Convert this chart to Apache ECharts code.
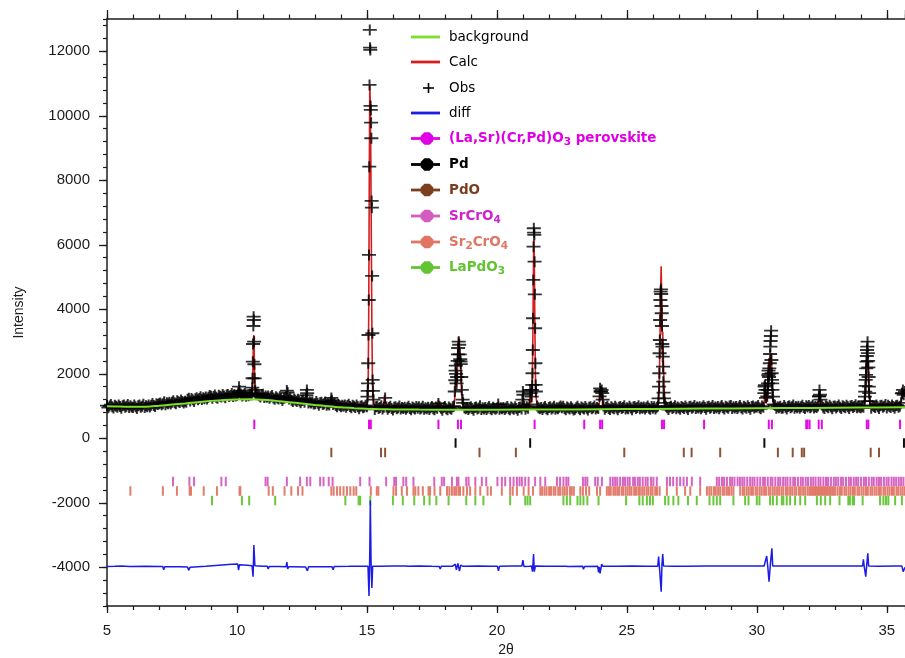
<!DOCTYPE html>
<html>
<head>
<meta charset="utf-8">
<script src="https://cdn.jsdelivr.net/npm/echarts@6/dist/echarts.min.js"></script>
<style>
html,body{margin:0;padding:0;background:#fff;}
#chart{width:905px;height:658px;}
</style>
</head>
<body>
<div id="chart"></div>
<script>
// ---------------- Powder pattern data (2θ in degrees, intensity in counts) ----------------

// Observed scan on a regular 0.05° grid, 5.00° … 35.70°
const scanStart = 5.0;
const scanStep = 0.05;
const obsScan = [
  1015, 950, 1000, 1045, 975, 940, 1025, 990, 960, 1035, 985, 930, 1010, 1030, 965, 995, 1050, 955, 1005, 970,
  955, 1030, 981, 927, 1008, 1029, 965, 996, 1052, 958, 1010, 980, 1031, 971, 1027, 1077, 1013, 983, 1074, 1044,
  1070, 1096, 1036, 1072, 1132, 1043, 1098, 1069, 1119, 1060, 1115, 1166, 1101, 1072, 1162, 1133, 1108, 1189, 1144, 1095,
  1145, 1116, 1207, 1238, 1154, 1235, 1191, 1142, 1228, 1254, 1195, 1230, 1291, 1201, 1257, 1227, 1278, 1218, 1274, 1324,
  1300, 1239, 1293, 1342, 1276, 1245, 1334, 1303, 1277, 1356, 1310, 1257, 1339, 1361, 1298, 1330, 1387, 1294, 1346, 1313,
  1330, 1380, 1480, 1376, 1311, 1341, 1396, 1301, 1352, 1317, 1362, 1340, 1861, 3668, 1500, 1380, 1353, 1315, 1281, 1353,
  1365, 1265, 1310, 1270, 1310, 1240, 1285, 1325, 1250, 1210, 1290, 1250, 1215, 1285, 1230, 1170, 1245, 1260, 1300, 1420,
  1215, 1255, 1180, 1140, 1219, 1179, 1144, 1214, 1158, 1098, 1173, 1188, 1117, 1200, 1400, 1092, 1136, 1096, 1136, 1065,
  1070, 1141, 1086, 1027, 1102, 1118, 1048, 1074, 1124, 1025, 1070, 1031, 1120, 1180, 1049, 1090, 1016, 977, 1058, 1019,
  980, 1028, 990, 1033, 965, 1013, 1055, 983, 945, 1028, 990, 957, 1029, 976, 918, 995, 1012, 944, 971, 1023,
  980, 2326, 10955, 10180, 5033, 1200, 895, 974, 992, 925, 952, 1006, 910, 959, 1250, 967, 902, 951, 996, 925,
  880, 960, 980, 915, 945, 1000, 905, 955, 920, 965, 897, 947, 992, 922, 887, 972, 937, 907, 982, 932,
  974, 909, 939, 994, 899, 949, 914, 959, 894, 944, 988, 918, 883, 968, 933, 1080, 978, 928, 872, 952,
  987, 917, 882, 967, 932, 902, 977, 1000, 1800, 1700, 2600, 2900, 2380, 1500, 1100, 947, 912, 957, 892, 942,
  976, 926, 871, 951, 971, 906, 936, 1010, 896, 946, 911, 956, 891, 941, 986, 916, 881, 966, 931, 901,
  937, 1060, 897, 947, 912, 957, 892, 942, 987, 917, 882, 967, 932, 902, 977, 927, 872, 952, 972, 907,
  1450, 1000, 903, 978, 928, 1050, 1400, 1498, 4909, 5476, 1450, 1000, 948, 913, 958, 893, 943, 988, 918, 883,
  955, 975, 910, 940, 995, 900, 950, 915, 961, 1000, 946, 991, 921, 886, 971, 936, 906, 981, 931, 876,
  898, 948, 993, 923, 888, 973, 938, 908, 983, 933, 878, 960, 980, 915, 945, 1000, 905, 955, 920, 1300,
  1450, 1400, 1000, 902, 952, 997, 927, 892, 977, 942, 914, 990, 940, 885, 965, 985, 921, 951, 1006, 911,
  946, 916, 991, 941, 886, 967, 987, 922, 952, 1007, 913, 963, 928, 973, 908, 958, 1004, 934, 899, 984,
  930, 975, 910, 960, 1000, 2016, 4546, 3482, 1755, 1100, 996, 946, 891, 971, 991, 926, 956, 1011, 917, 967,
  938, 903, 988, 953, 923, 998, 949, 894, 975, 995, 930, 960, 1015, 921, 971, 936, 981, 916, 966, 1011,
  952, 897, 977, 997, 932, 962, 1017, 922, 972, 937, 983, 918, 968, 1013, 944, 909, 994, 959, 929, 1004,
  1020, 925, 975, 940, 985, 920, 970, 1015, 946, 911, 996, 961, 931, 1006, 956, 901, 982, 1002, 937, 967,
  973, 1018, 948, 913, 998, 963, 1600, 1250, 1300, 2100, 2326, 3338, 1498, 1050, 1025, 931, 981, 946, 991, 928,
  938, 1013, 963, 908, 988, 1008, 943, 974, 1029, 934, 985, 950, 995, 930, 980, 1025, 957, 922, 1007, 973,
  1013, 948, 978, 1033, 938, 988, 953, 998, 1300, 1200, 1029, 959, 925, 1010, 975, 945, 1021, 971, 916, 996,
  1002, 937, 987, 1032, 962, 927, 1012, 978, 948, 1023, 975, 920, 1000, 1020, 955, 985, 1040, 945, 995, 960,
  947, 997, 962, 1150, 1963, 2840, 1900, 1150, 934, 1019, 984, 955, 1030, 980, 925, 1006, 1026, 961, 991, 1046,
  937, 1022, 987, 957, 1032, 983, 928, 1008, 1028, 963, 994, 1100, 1400, 1350, 1450
];

// Extra observed points on the finer steps through the Bragg peaks [2θ, counts]
const peakObs = [
  [10.06, 1420], [10.08, 1600],
  [10.57, 1400], [10.59, 1570], [10.61, 2375], [10.62, 2924], [10.63, 3482], [10.64, 3771], [10.66, 2995], [10.67, 2295], [10.68, 1860], [10.72, 1380],
  [11.92, 1480],
  [12.67, 1340], [12.69, 1498],
  [13.63, 1250],
  [15.02, 1290], [15.03, 1467], [15.04, 1705], [15.06, 3203], [15.07, 4288], [15.08, 5684], [15.09, 8422], [15.11, 12660], [15.12, 12112], [15.13, 12040],
  [15.14, 10304], [15.16, 9786], [15.17, 9302], [15.18, 7358], [15.19, 7150], [15.21, 3256], [15.22, 1808], [15.23, 1467],
  [18.38, 1450], [18.41, 2100], [18.42, 2250], [18.43, 2000], [18.47, 1900], [18.49, 2400], [18.51, 2800], [18.53, 2995], [18.57, 2600], [18.59, 2450], [18.61, 2300], [18.63, 1900], [18.68, 1200],
  [20.98, 1200], [21.02, 1350], [21.28, 1500], [21.34, 1290], [21.36, 1653], [21.37, 2016], [21.38, 2738], [21.39, 3721], [21.41, 5941], [21.42, 6512], [21.43, 6375], [21.44, 6304],
  [21.46, 4465], [21.47, 3411], [21.48, 2326], [21.49, 1653],
  [23.97, 1550], [23.99, 1450], [24.03, 1500], [24.07, 1200],
  [26.22, 1240], [26.24, 1600], [26.26, 2636], [26.27, 3048], [26.28, 3668], [26.29, 4288], [26.31, 4620], [26.32, 4474], [26.33, 4102], [26.34, 3876],
  [26.36, 2924], [26.37, 2840], [26.38, 2530], [26.39, 2220], [26.41, 1414], [26.43, 1240],
  [30.29, 1400], [30.31, 1650], [30.33, 1500], [30.42, 1500], [30.43, 1700], [30.44, 1950], [30.46, 2000], [30.47, 1900], [30.48, 2170], [30.51, 2614], [30.52, 2840],
  [30.53, 3017], [30.54, 3172], [30.56, 2428], [30.57, 2016], [30.58, 1808], [30.59, 1705], [30.62, 1290],
  [32.39, 1300], [32.41, 1498], [32.43, 1350],
  [34.16, 1290], [34.17, 1445], [34.18, 1622], [34.19, 1808], [34.21, 2170], [34.22, 2375], [34.23, 2552], [34.24, 2738], [34.26, 2995], [34.27, 2640],
  [34.28, 2400], [34.29, 2200], [34.31, 1600], [34.32, 1400],
  [35.58, 1395], [35.62, 1500]
];

// Calculated profile [2θ, counts]
const calcCurve = [
  [5.0, 965], [5.5, 960], [5.86, 955], [5.90, 1010], [5.94, 956], [6.0, 958], [6.5, 968], [7.0, 1015], [7.12, 1040], [7.17, 1090], [7.22, 1048],
  [7.5, 1075], [8.0, 1125], [8.08, 1135], [8.13, 1190], [8.18, 1145], [8.5, 1170], [9.0, 1200], [9.5, 1225], [10.0, 1235], [10.03, 1240],
  [10.06, 1400], [10.08, 1560], [10.10, 1420], [10.13, 1250], [10.3, 1240], [10.55, 1280], [10.59, 1450], [10.61, 2000], [10.63, 2900],
  [10.645, 3200], [10.66, 2800], [10.68, 1900], [10.70, 1500], [10.74, 1300], [10.8, 1240], [11.0, 1230], [11.5, 1195], [11.87, 1160],
  [11.92, 1290], [11.97, 1155], [12.3, 1125], [12.64, 1095], [12.69, 1190], [12.74, 1090], [13.0, 1060], [13.58, 1020], [13.63, 1310],
  [13.68, 1015], [14.0, 985], [14.5, 955], [15.0, 940], [15.03, 1200], [15.05, 1900], [15.07, 4000], [15.09, 8000], [15.11, 10950],
  [15.13, 10400], [15.15, 8600], [15.17, 6000], [15.19, 3500], [15.21, 1900], [15.24, 1200], [15.30, 960], [15.63, 925], [15.68, 1340],
  [15.73, 925], [16.0, 915], [17.0, 905], [17.70, 903], [17.75, 1188], [17.80, 903], [18.0, 902], [18.35, 950], [18.40, 1500], [18.42, 1900],
  [18.44, 1600], [18.47, 1900], [18.50, 2600], [18.53, 3150], [18.56, 2800], [18.60, 2400], [18.63, 1700], [18.67, 1100], [18.72, 960],
  [19.0, 905], [19.30, 905], [19.33, 1050], [19.36, 905], [20.0, 903], [20.03, 905], [20.06, 1135], [20.09, 905], [20.5, 905], [20.96, 910],
  [21.00, 1250], [21.04, 915], [21.25, 950], [21.28, 1350], [21.31, 1100], [21.35, 1400], [21.38, 2800], [21.41, 5600], [21.425, 6171],
  [21.44, 5400], [21.46, 3600], [21.48, 2000], [21.51, 1250], [21.56, 980], [22.0, 910], [22.40, 912], [22.43, 1050], [22.46, 912],
  [22.65, 912], [22.68, 1030], [22.71, 912], [23.0, 910], [23.93, 960], [23.97, 1519], [24.00, 1200], [24.05, 1450], [24.09, 980],
  [24.3, 915], [25.0, 918], [26.0, 922], [26.20, 1000], [26.24, 1500], [26.27, 2800], [26.30, 4600], [26.32, 5333], [26.34, 4300],
  [26.36, 3200], [26.38, 3300], [26.40, 2600], [26.43, 1600], [26.47, 1100], [26.52, 960], [27.0, 925], [28.0, 930], [29.0, 933],
  [30.0, 935], [30.27, 945], [30.31, 1500], [30.35, 1100], [30.40, 1200], [30.43, 1800], [30.46, 2480], [30.49, 1900], [30.52, 2100],
  [30.555, 2636], [30.58, 2000], [30.61, 1300], [30.65, 1000], [31.0, 940], [32.0, 945], [32.36, 948], [32.41, 1343], [32.46, 950],
  [33.0, 950], [34.0, 955], [34.14, 1000], [34.18, 1500], [34.215, 2400], [34.25, 2200], [34.28, 2400], [34.31, 1600], [34.35, 1050],
  [35.0, 960], [35.5, 962], [35.55, 990], [35.60, 1300], [35.65, 1450], [35.70, 1500]
];

// Refined background
const bgTheta = [5, 5.5, 6, 6.5, 7, 7.5, 8, 8.5, 9, 9.5, 10, 10.5, 11, 11.5, 12, 12.5, 13, 13.5, 14, 14.5, 15, 15.5, 16, 17, 18, 19, 20, 22, 24, 26, 28, 30, 32, 34, 35.7];
const bgCounts = [995, 985, 975, 980, 1010, 1045, 1080, 1120, 1160, 1190, 1205, 1212, 1195, 1160, 1120, 1078, 1035, 995, 960, 935, 915, 902, 895, 889, 887, 886, 887, 892, 900, 910, 920, 930, 942, 953, 962];

// Difference curve (Obs − Calc), plotted with a −4000 offset [2θ, counts]
const diffCurve = [
  [5.0, -3975], [5.3, -3970], [5.55, -3960], [5.58, -3935], [5.62, -3968], [5.88, -3972], [5.91, -4015], [5.95, -3975], [6.5, -3970],
  [7.0, -3975], [7.15, -3978], [7.18, -4075], [7.22, -3980], [7.8, -3985], [8.1, -3990], [8.14, -4095], [8.2, -3995], [8.8, -3965],
  [9.3, -3935], [9.8, -3905], [10.03, -3900], [10.06, -4090], [10.1, -3920], [10.4, -3935], [10.58, -3955], [10.62, -4291], [10.65, -3309],
  [10.69, -3950], [11.0, -3965], [11.17, -3970], [11.2, -4050], [11.24, -3975], [11.6, -3975], [11.89, -3980], [11.92, -3836], [11.95, -4050],
  [11.99, -3985], [12.14, -3985], [12.17, -3950], [12.21, -3990], [12.64, -3990], [12.67, -3930], [12.71, -4110], [12.75, -3985],
  [13.2, -3980], [13.66, -3980], [13.70, -4080], [13.74, -3975], [14.3, -3970], [14.8, -3965], [15.04, -3970], [15.08, -4890],
  [15.11, -3500], [15.13, -1932], [15.16, -3900], [15.19, -4642], [15.22, -3970], [15.5, -3965], [16.0, -3960], [16.5, -3962],
  [16.54, -3945], [16.58, -3965], [17.0, -3960], [17.5, -3970], [17.78, -3972], [17.82, -4050], [17.86, -3970], [18.3, -3965],
  [18.40, -3900], [18.44, -4080], [18.50, -3880], [18.56, -4120], [18.61, -3930], [18.7, -3970], [19.3, -3960], [19.8, -3965],
  [20.02, -3968], [20.06, -4110], [20.1, -3970], [20.6, -3960], [20.96, -3960], [21.00, -3774], [21.04, -3975], [21.25, -3970],
  [21.28, -4020], [21.33, -3960], [21.37, -4136], [21.41, -3588], [21.44, -4136], [21.48, -3960], [21.9, -3965], [22.3, -3970],
  [22.66, -3965], [22.69, -3955], [22.74, -3975], [23.3, -3970], [23.33, -4060], [23.37, -3975], [23.88, -3970], [23.91, -4160],
  [23.94, -3990], [23.97, -4186], [24.03, -3898], [24.08, -3970], [24.6, -3965], [25.2, -3960], [25.8, -3965], [26.19, -3965],
  [26.22, -3671], [26.25, -3960], [26.29, -3980], [26.32, -4756], [26.35, -3900], [26.38, -3588], [26.41, -3960], [26.8, -3970],
  [27.28, -3968], [27.31, -4000], [27.35, -3965], [28.0, -3960], [28.6, -3962], [29.2, -3958], [29.8, -3960], [30.28, -3958],
  [30.31, -3930], [30.34, -3960], [30.38, -3650], [30.42, -3970], [30.47, -4446], [30.52, -3900], [30.58, -3411], [30.61, -3960],
  [31.0, -3960], [31.6, -3962], [32.2, -3960], [32.28, -3958], [32.31, -3900], [32.34, -4010], [32.38, -3960], [32.9, -3962],
  [33.5, -3960], [34.07, -3960], [34.10, -3752], [34.13, -3970], [34.19, -4291], [34.23, -3900], [34.27, -3566], [34.30, -3960],
  [34.7, -3965], [35.3, -3960], [35.58, -3962], [35.63, -4136], [35.7, -4000]
];

// Reflection positions (2θ) of each phase, and the height at which their markers sit
const perovskiteRefl = [10.666, 15.08, 15.15, 17.75, 18.50, 18.62, 21.45, 23.36, 23.97, 24.05, 26.35, 26.43, 27.97, 30.46, 30.58, 31.90, 31.95, 32.03, 32.38, 32.50, 34.23, 34.29, 35.51];
const pdRefl = [18.41, 21.28, 30.29, 35.66];
const pdoRefl = [13.63, 15.54, 15.70, 19.33, 20.73, 24.90, 27.19, 27.49, 28.59, 30.81, 31.38, 31.73, 31.82, 34.38, 34.70];
const srcro4Refl = [
  7.54, 8.17, 8.35, 9.40, 9.57, 11.10, 11.18, 11.92, 12.43, 12.69, 12.82, 13.20, 13.33, 13.53, 13.68, 14.74, 15.10, 15.74, 16.05, 16.12,
  16.40, 16.51, 16.79, 17.59, 17.88, 17.97, 18.27, 18.46, 18.52, 18.82, 18.91, 19.17, 19.42, 19.59, 20.02,
  20.19, 20.32, 20.51, 20.64, 20.77, 20.87, 20.96, 21.09, 21.22, 21.47, 21.67, 21.86, 22.31, 22.43, 22.56, 22.67, 22.75, 23.31, 23.40,
  23.48, 23.78, 23.88, 24.04, 24.36, 24.46, 24.55, 24.63, 24.74, 24.85, 24.93, 25.03, 25.11, 25.24, 25.31, 25.42, 25.50, 25.61, 25.72,
  25.80, 25.93, 26.02, 26.15, 26.54, 26.66, 26.78, 26.92, 27.05, 27.18, 27.31, 27.50, 27.82, 28.46, 28.55, 28.66, 28.74, 28.85, 28.97,
  29.05, 29.14, 29.26, 29.35, 29.44, 29.52, 29.63, 29.74, 29.83, 29.91, 30.02, 30.13, 30.24, 30.31, 30.42, 30.53, 30.60, 30.71, 30.82,
  30.90, 31.01, 31.10, 31.18, 31.29, 31.40, 31.47, 31.58, 31.69, 31.77, 31.88, 31.97, 32.08, 32.17, 32.26, 32.37, 32.45, 32.56, 32.66,
  32.74, 32.85, 32.96, 33.04, 33.13, 33.24, 33.32, 33.43, 33.54, 33.62, 33.73, 33.82, 33.90, 34.01, 34.12, 34.20, 34.31, 34.42, 34.50,
  34.61, 34.70, 34.78, 34.89, 34.99, 35.07, 35.18, 35.27, 35.36, 35.46, 35.55, 35.64
];
const sr2cro4Refl = [
  5.90, 7.15, 7.69, 8.18, 8.23, 8.72, 9.23, 10.10, 10.13, 11.22, 11.38, 11.83, 12.09, 12.35, 12.52, 13.63, 13.72, 13.85, 13.97, 14.10,
  14.23, 14.36, 14.49, 14.59, 15.15, 15.38, 15.44, 16.02, 16.12, 16.34, 16.54, 16.79, 16.86, 16.98, 17.15, 17.37, 17.43, 17.60, 17.82,
  18.08, 18.17, 18.27, 18.36, 18.43, 18.52, 18.58, 18.71, 18.85, 18.97, 19.17, 19.36, 19.64, 19.77,
  20.19, 20.51, 20.61, 20.77, 21.03, 21.22, 21.39, 21.67, 21.74, 21.83, 21.91, 22.01, 22.08, 22.18, 22.25, 22.36, 22.43, 22.53, 22.61,
  22.70, 22.81, 22.88, 22.96, 23.21, 23.31, 23.43, 23.55, 23.85, 23.97, 24.23, 24.31, 24.38, 24.48, 24.55, 24.63, 24.70, 24.80, 24.86,
  24.95, 25.03, 25.11, 25.18, 25.28, 25.35, 25.44, 25.50, 25.59, 25.67, 25.76, 25.83, 25.92, 25.99, 26.09, 26.16, 26.26, 26.54, 26.92,
  27.24, 27.44, 27.82, 28.08, 28.17, 28.25, 28.35, 28.42, 28.51, 28.59, 28.69, 28.76, 28.85, 28.93, 29.02, 29.10, 29.36, 29.46, 29.52,
  29.61, 29.69, 29.78, 29.85, 29.95, 30.02, 30.11, 30.19, 30.28, 30.35, 30.45, 30.52, 30.61, 30.69, 30.78, 30.86, 30.95, 31.02, 31.12,
  31.19, 31.28, 31.36, 31.45, 31.52, 31.62, 31.69, 31.78, 31.86, 31.95, 32.02, 32.08, 32.13, 32.19, 32.24, 32.29, 32.35, 32.40, 32.46,
  32.51, 32.57, 32.62, 32.68, 32.73, 32.79, 32.84, 32.90, 32.96, 33.02, 33.11, 33.20, 33.27, 33.37, 33.44, 33.53, 33.61, 33.70, 33.77,
  33.87, 33.94, 34.03, 34.11, 34.20, 34.27, 34.37, 34.44, 34.53, 34.61, 34.70, 34.77, 34.87, 34.94, 35.03, 35.11, 35.20, 35.27, 35.37,
  35.44, 35.53, 35.61, 35.69
];
const lapdo3Refl = [
  9.04, 10.19, 10.47, 11.47, 14.17, 14.68, 14.74, 15.13, 16.00, 16.38, 16.82, 17.20, 17.41, 17.67, 18.14, 18.82, 19.17, 19.48, 20.51,
  21.09, 21.18, 21.28, 22.56, 22.69, 22.82, 23.10, 23.21, 23.33, 23.48, 23.91, 24.97, 25.48, 25.61, 25.77, 25.89, 26.00, 26.47, 26.60,
  26.79, 26.98, 27.35, 27.69, 28.18, 28.33, 28.46, 28.59, 29.10, 29.55, 29.68, 30.00, 30.10, 30.51, 30.62, 30.77, 30.96, 31.02, 31.15,
  31.28, 31.47, 31.67, 31.86, 32.31, 32.46, 32.63, 32.82, 33.18, 33.52, 33.58, 33.69, 33.74, 34.07, 34.74, 34.87, 34.97, 35.06, 35.32, 35.58
];
const tickLevels = { perovskite: 430, pd: -146, pdo: -440, srcro4: -1340, sr2cro4: -1634, lapdo3: -1930 };

// Axis ticks
const yMajorTicks = [-4000, -2000, 0, 2000, 4000, 6000, 8000, 10000, 12000];

// ---------------- Chart ----------------
const AXIS_COLOR = '#1c1c1c';
const LABEL_FONT = '"Liberation Sans", Arial, Helvetica, sans-serif';
const LEGEND_FONT = '"DejaVu Sans", Verdana, sans-serif';

const COLORS = {
  bg: '#7ddf2c', calc: '#d21e1e', diff: '#1c1ce6',
  perovskite: '#e000e6', pd: '#000000', pdo: '#7b3f1f',
  srcro4Text: '#cf22c9', srcro4: '#d55cbf',
  sr2cro4: '#e07564', lapdo3: '#63c433'
};

const obsData = obsScan.map((v, i) => [+(scanStart + i * scanStep).toFixed(2), v]).concat(peakObs);
const bgData = bgTheta.map((t, i) => [t, bgCounts[i]]);

// "+" marker built from two filled bars
const CROSS = 'path://M0,4.6H14V6.4H0Z M6.0,0H8.0V11H6.0Z';

function reflSeries(name, positions, level, color) {
  return {
    name, type: 'scatter', xAxisIndex: 0, yAxisIndex: 0,
    data: positions.map(t => [t, level]),
    symbol: 'rect', symbolSize: [2, 9.5],
    itemStyle: { color, opacity: 0.95 },
    silent: true, z: 4
  };
}

const gridRect = { left: 107, right: 0, top: 19, bottom: 52, containLabel: false, outerBoundsMode: 'none' };

function xMinor(position) {
  return {
    type: 'value', gridIndex: 1, position, min: 5, max: 35.7, interval: 1,
    axisLine: { show: false, onZero: false },
    axisTick: { show: true, inside: false, length: position === 'top' ? 4.5 : 4, lineStyle: { color: AXIS_COLOR, width: 1.2 } },
    axisLabel: { show: false }, splitLine: { show: false }
  };
}

const plainNumber = v => String(v);

const option = {
  animation: false,
  backgroundColor: '#ffffff',
  grid: [Object.assign({}, gridRect), Object.assign({}, gridRect)],
  xAxis: [
    {
      type: 'value', gridIndex: 0, position: 'bottom', min: 5, max: 35.7, interval: 5,
      axisLine: { show: true, onZero: false, lineStyle: { color: AXIS_COLOR, width: 1.5 } },
      axisTick: { show: true, length: 7, lineStyle: { color: AXIS_COLOR, width: 1.3 } },
      axisLabel: { fontSize: 15, color: AXIS_COLOR, fontFamily: LABEL_FONT, margin: 17, showMaxLabel: false, formatter: plainNumber },
      splitLine: { show: false },
      name: '2θ', nameLocation: 'middle', nameGap: 37,
      nameTextStyle: { fontSize: 14, color: AXIS_COLOR, fontFamily: LABEL_FONT }
    },
    {
      type: 'value', gridIndex: 0, position: 'top', min: 5, max: 35.7, interval: 5,
      axisLine: { show: true, onZero: false, lineStyle: { color: AXIS_COLOR, width: 1.5 } },
      axisTick: { show: true, length: 9, lineStyle: { color: AXIS_COLOR, width: 1.3 } },
      axisLabel: { show: false }, splitLine: { show: false }
    },
    xMinor('bottom'),
    xMinor('top')
  ],
  yAxis: [
    {
      type: 'value', gridIndex: 0, position: 'left', min: -5200, max: 13000,
      axisLine: { show: true, onZero: false, lineStyle: { color: AXIS_COLOR, width: 1.5 } },
      axisTick: { show: true, length: 8, customValues: yMajorTicks, lineStyle: { color: AXIS_COLOR, width: 1.3 } },
      axisLabel: { customValues: yMajorTicks, fontSize: 15, color: AXIS_COLOR, fontFamily: LABEL_FONT, margin: 17, formatter: plainNumber },
      splitLine: { show: false },
      name: 'Intensity', nameLocation: 'middle', nameGap: 81, nameRotate: 90,
      nameTextStyle: { fontSize: 14, color: AXIS_COLOR, fontFamily: LABEL_FONT }
    },
    {
      type: 'value', gridIndex: 1, position: 'left', min: -5200, max: 13000, interval: 400,
      axisLine: { show: false, onZero: false },
      axisTick: { show: true, length: 4, lineStyle: { color: AXIS_COLOR, width: 1.2 } },
      axisLabel: { show: false }, splitLine: { show: false }
    }
  ],
  series: [
    {
      name: 'Calc', type: 'line', xAxisIndex: 0, yAxisIndex: 0, data: calcCurve,
      showSymbol: false, symbol: 'none', lineStyle: { color: COLORS.calc, width: 1.6 }, silent: true, z: 2
    },
    {
      name: 'Obs', type: 'scatter', xAxisIndex: 0, yAxisIndex: 0, data: obsData,
      symbol: CROSS, symbolSize: [14, 11], itemStyle: { color: '#000000' }, silent: true, z: 3
    },
    {
      name: 'background', type: 'line', xAxisIndex: 0, yAxisIndex: 0, data: bgData, smooth: 0.35,
      showSymbol: false, symbol: 'none', lineStyle: { color: COLORS.bg, width: 2 }, silent: true, z: 5
    },
    {
      name: 'diff', type: 'line', xAxisIndex: 0, yAxisIndex: 0, data: diffCurve,
      showSymbol: false, symbol: 'none', lineStyle: { color: COLORS.diff, width: 1.5 }, silent: true, z: 5
    },
    reflSeries('(La,Sr)(Cr,Pd)O3 perovskite', perovskiteRefl, tickLevels.perovskite, COLORS.perovskite),
    reflSeries('Pd', pdRefl, tickLevels.pd, COLORS.pd),
    reflSeries('PdO', pdoRefl, tickLevels.pdo, '#8a4a2a'),
    reflSeries('SrCrO4', srcro4Refl, tickLevels.srcro4, COLORS.srcro4),
    reflSeries('Sr2CrO4', sr2cro4Refl, tickLevels.sr2cro4, COLORS.sr2cro4),
    reflSeries('LaPdO3', lapdo3Refl, tickLevels.lapdo3, COLORS.lapdo3)
  ]
};

// ---------------- Legend (drawn as graphic elements) ----------------
const legendRows = [
  { kind: 'line', color: COLORS.bg, text: '{n|background}', y: 37 },
  { kind: 'line', color: COLORS.calc, text: '{n|Calc}', y: 62 },
  { kind: 'cross', color: '#000000', text: '{n|Obs}', y: 88 },
  { kind: 'line', color: COLORS.diff, text: '{n|diff}', y: 113 },
  { kind: 'phase', color: COLORS.perovskite, textColor: COLORS.perovskite, text: '{b|(La,Sr)(Cr,Pd)O}{s|3}{b| perovskite}', y: 138.5 },
  { kind: 'phase', color: COLORS.pd, textColor: COLORS.pd, text: '{b|Pd}', y: 164.5 },
  { kind: 'phase', color: COLORS.pdo, textColor: COLORS.pdo, text: '{b|PdO}', y: 190 },
  { kind: 'phase', color: COLORS.srcro4, textColor: COLORS.srcro4Text, text: '{b|SrCrO}{s|4}', y: 216 },
  { kind: 'phase', color: COLORS.sr2cro4, textColor: COLORS.sr2cro4, text: '{b|Sr}{s|2}{b|CrO}{s|4}', y: 242 },
  { kind: 'phase', color: COLORS.lapdo3, textColor: COLORS.lapdo3, text: '{b|LaPdO}{s|3}', y: 267.5 }
];

function octagon(cx, cy, r) {
  const pts = [];
  for (let k = 0; k < 8; k++) {
    const a = Math.PI / 8 + k * Math.PI / 4;
    pts.push([cx + r * Math.cos(a), cy + r * Math.sin(a)]);
  }
  return pts;
}

const LX0 = 411, LX1 = 440, LTX = 449;
const legendElements = [];
legendRows.forEach(row => {
  if (row.kind === 'line') {
    legendElements.push({ type: 'rect', shape: { x: LX0, y: row.y - 1.4, width: LX1 - LX0, height: 2.8 }, style: { fill: row.color } });
  } else if (row.kind === 'cross') {
    legendElements.push({ type: 'rect', shape: { x: 423, y: row.y - 0.8, width: 11, height: 1.6 }, style: { fill: row.color } });
    legendElements.push({ type: 'rect', shape: { x: 427.7, y: row.y - 5, width: 1.6, height: 10 }, style: { fill: row.color } });
  } else {
    legendElements.push({ type: 'rect', shape: { x: LX0, y: row.y - 1.4, width: LX1 - LX0, height: 2.8 }, style: { fill: row.color } });
    legendElements.push({ type: 'polygon', shape: { points: octagon(427, row.y, 6.8) }, style: { fill: row.color } });
  }
  const tc = row.textColor || '#000000';
  legendElements.push({
    type: 'text', x: LTX, y: row.y,
    style: {
      text: row.text, align: 'left', verticalAlign: 'middle',
      rich: {
        n: { fontSize: 13.5, fontFamily: LEGEND_FONT, fill: '#000000', lineHeight: 16 },
        b: { fontSize: 13.5, fontFamily: LEGEND_FONT, fontWeight: 'bold', fill: tc, lineHeight: 16 },
        s: { fontSize: 10.5, fontFamily: LEGEND_FONT, fontWeight: 'bold', fill: tc, lineHeight: 10, padding: [8, 0, 0, 0] }
      }
    },
    z: 10
  });
});
option.graphic = { elements: legendElements };

const chart = echarts.init(document.getElementById('chart'), null, { renderer: 'canvas' });
chart.setOption(option);
</script>
</body>
</html>
